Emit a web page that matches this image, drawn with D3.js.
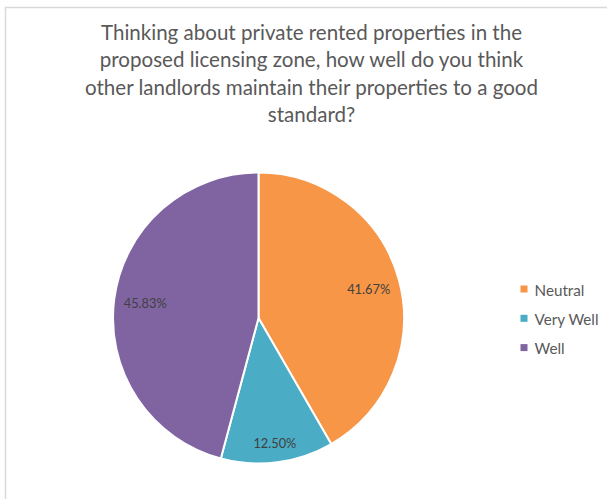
<!DOCTYPE html>
<html>
<head>
<meta charset="utf-8">
<script src="https://cdn.jsdelivr.net/npm/d3@7"></script>
<style>
  html, body { margin: 0; padding: 0; background: #fff; }
  svg { display: block; }
</style>
</head>
<body>
<svg id="chart" width="607" height="499"></svg>
<script>
// Survey responses
const categories = ["Neutral", "Very Well", "Well"];
const shares = [41.67, 12.50, 45.83];
const colors = ["#F79646", "#4BACC6", "#8064A2"];
const titleLines = [
  "Thinking about private rented properties in the",
  "proposed licensing zone, how well do you think",
  "other landlords maintain their properties to a good",
  "standard?"
];

const W = 607, H = 499;
const svg = d3.select("#chart");
const FONT = "Lato, 'Open Sans', sans-serif";

// scale a text selection's font size so that a reference node spans the given width
function fitWidth(sel, node, base, width) {
  sel.style("font-size", base + "px");
  const w = node.getComputedTextLength();
  sel.style("font-size", (base * width / w).toFixed(2) + "px");
}

// chart frame
svg.append("rect")
  .attr("x", 5.5).attr("y", 7.5)
  .attr("width", W).attr("height", H)
  .attr("fill", "#fff")
  .attr("stroke", "#d9d9d9").attr("stroke-width", 1.5);

// title
const titleTexts = svg.append("g").selectAll("text")
  .data(titleLines).join("text")
  .attr("x", 311.5)
  .attr("y", (d, i) => 40 + i * 27.3)
  .attr("text-anchor", "middle")
  .attr("fill", "#595959")
  .style("font-family", FONT)
  .text(d => d);
fitWidth(titleTexts, titleTexts.node(), 18.7, 421);

// pie
const cx = 258.5, cy = 318, R = 145.5;
const data = categories.map((c, i) => ({ cat: c, value: shares[i], color: colors[i] }));
const pie = d3.pie().value(d => d.value).sort(null);
const arc = d3.arc().innerRadius(0).outerRadius(R);
const arcs = pie(data);

const g = svg.append("g").attr("transform", `translate(${cx},${cy})`);
g.selectAll("path").data(arcs).join("path")
  .attr("d", arc)
  .attr("fill", d => d.data.color)
  .attr("stroke", "#fff")
  .attr("stroke-width", 2)
  .attr("stroke-linejoin", "round");

// data labels placed at the inside end of each slice
const labelFmt = d => d.toFixed(2) + "%";
const labels = g.selectAll("text.lbl").data(arcs).join("text")
  .attr("class", "lbl")
  .attr("text-anchor", "middle")
  .attr("dominant-baseline", "central")
  .attr("fill", "#404040")
  .style("font-family", FONT)
  .text(d => labelFmt(d.data.value));
fitWidth(labels, labels.node(), 12, 43);

labels.each(function(d) {
  const bb = this.getBBox();
  const hw = bb.width / 2, hh = bb.height / 2 - 1.5;
  const a = (d.startAngle + d.endAngle) / 2;
  const ux = Math.sin(a), uy = -Math.cos(a);
  const target = R - 9;
  let lo = 0, hi = R;
  for (let k = 0; k < 40; k++) {
    const m = (lo + hi) / 2;
    const fx = Math.abs(ux * m) + hw, fy = Math.abs(uy * m) + hh;
    if (Math.hypot(fx, fy) > target) hi = m; else lo = m;
  }
  d3.select(this).attr("x", ux * lo).attr("y", uy * lo);
});

// legend
const legend = svg.append("g").attr("transform", "translate(520.5,289)");
const items = legend.selectAll("g").data(data).join("g")
  .attr("transform", (d, i) => `translate(0,${i * 29.3})`);
items.append("rect")
  .attr("x", 0).attr("y", -3.5)
  .attr("width", 7).attr("height", 7)
  .attr("fill", d => d.color);
const legendTexts = items.append("text")
  .attr("x", 14).attr("y", 0.5)
  .attr("dominant-baseline", "central")
  .attr("fill", "#595959")
  .style("font-family", FONT)
  .text(d => d.cat);
fitWidth(legendTexts, legendTexts.nodes()[1], 13.3, 64);
</script>
</body>
</html>
